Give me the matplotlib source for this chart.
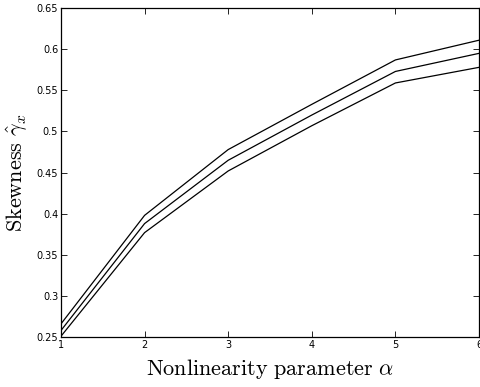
import numpy as np
import matplotlib.pyplot as plt

plt.rcParams['mathtext.fontset'] = 'cm'

alpha = [1, 2, 3, 4, 5, 6]
upper = [0.266, 0.398, 0.478, 0.533, 0.587, 0.611]
middle = [0.258, 0.388, 0.465, 0.520, 0.573, 0.595]
lower = [0.251, 0.377, 0.452, 0.507, 0.559, 0.578]

fig = plt.figure(figsize=(4.8, 3.87), dpi=100)
ax = fig.add_axes([0.127, 0.129, 0.871, 0.850])

for s in (upper, middle, lower):
    ax.plot(alpha, s, color='black', linewidth=0.9)

ax.set_xlim(1, 6)
ax.set_ylim(0.25, 0.65)
ax.set_xticks(alpha)
ax.set_yticks(np.arange(0.25, 0.651, 0.05))
ax.set_yticklabels(['0.25', '0.3', '0.35', '0.4', '0.45', '0.5', '0.55', '0.6', '0.65'])
ax.tick_params(direction='in', top=True, right=True, labelsize=7, length=4, width=0.6, pad=2)
for sp in ax.spines.values():
    sp.set_linewidth(0.9)

ax.set_xlabel(r'$\mathrm{Nonlinearity\ parameter}\ \alpha$', fontsize=16, labelpad=5)
ax.set_ylabel(r'$\mathrm{Skewness}\ \hat{\gamma}_x$', fontsize=16, labelpad=5)

fig.savefig('out.png', dpi=100)
